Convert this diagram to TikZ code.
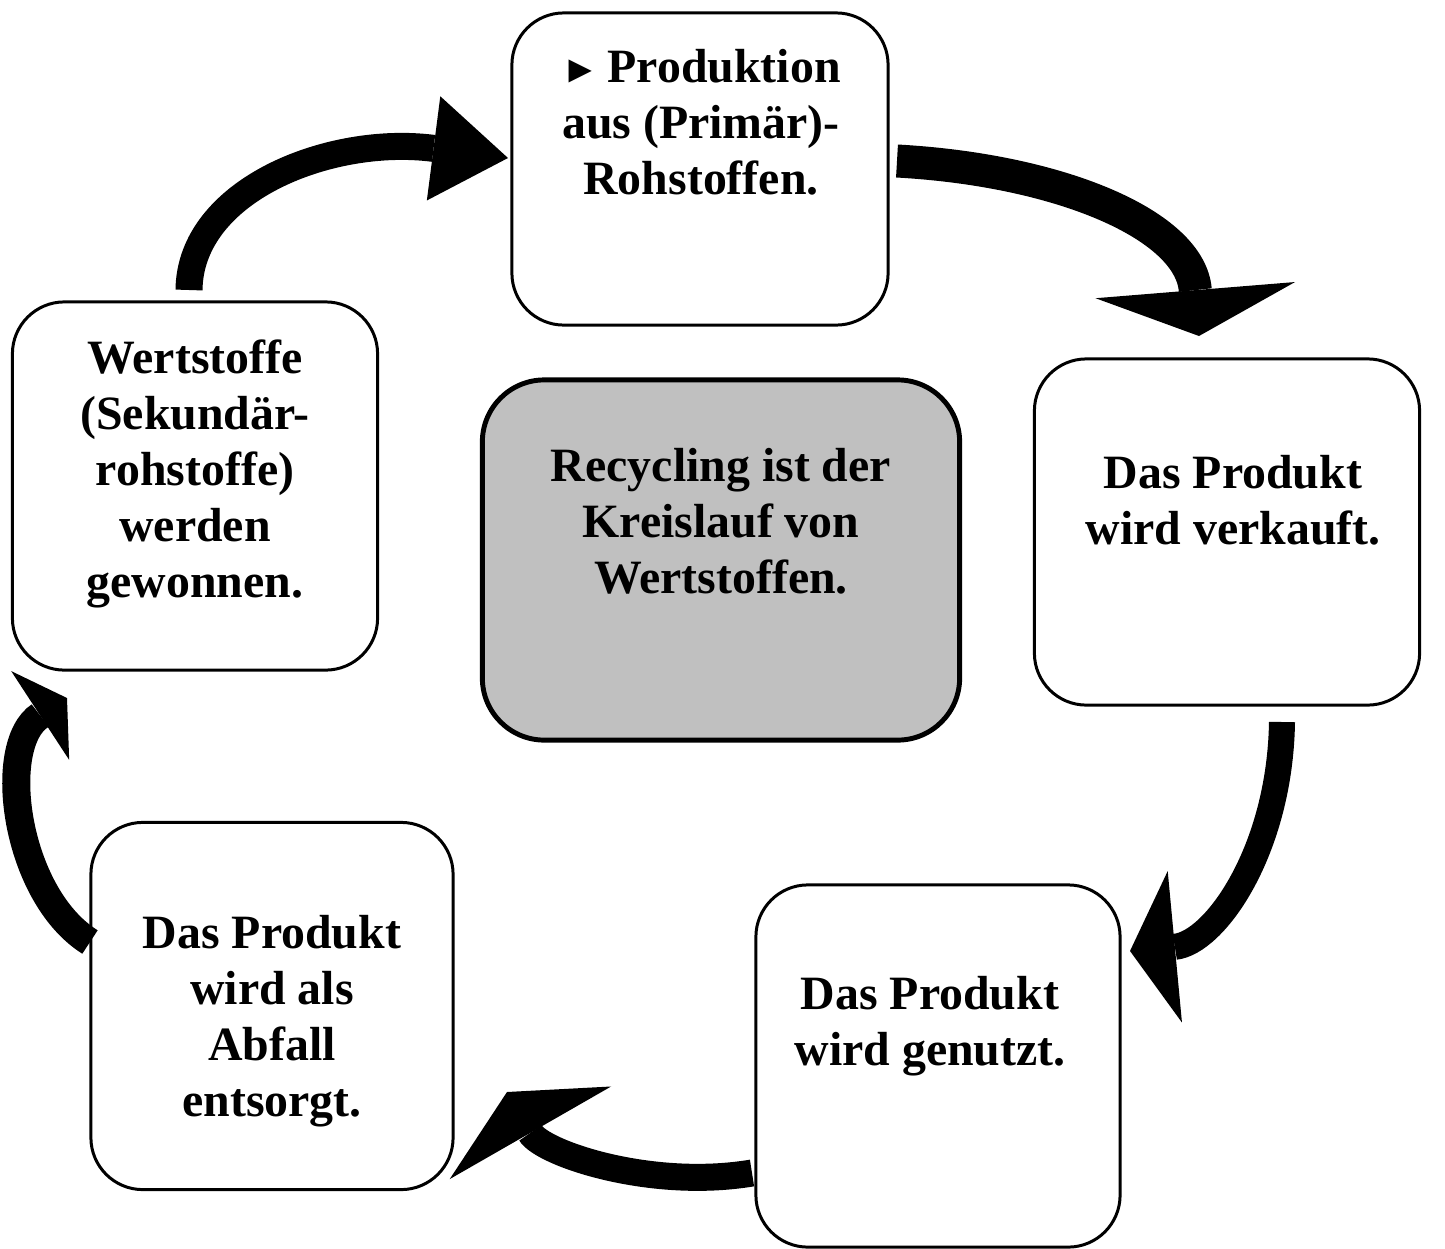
\documentclass[tikz,border=0pt]{standalone}
\usepackage{fontspec}
\setmainfont{Liberation Serif}
\usepackage{xcolor}
\usetikzlibrary{arrows.meta}
\definecolor{coregray}{RGB}{192,192,192}

\begin{document}
\begin{tikzpicture} [
       x=0.01cm, y=-0.01cm,
       stage/.style={draw, line width=0.85pt, rounded corners=0.52cm, inner sep=0pt},
       core/.style={stage, line width=1.4pt, fill=coregray, rounded corners=0.62cm},
       texte/.style={align=center, inner sep=0pt,
               font=\bfseries\fontsize{13.6}{15.9}\selectfont},
       bent/.style n args={3}{draw, line width=#1,
               -{Triangle[length=#2, width=#3, line width=0pt]}},
       ]
       \useasboundingbox (0,0) rectangle (1445,1248);
       % boxes
       \node (prod) [stage, minimum width=3.76cm, minimum height=3.12cm] at (700,169) {};
       \node (sold) [stage, minimum width=3.85cm, minimum height=3.46cm] at (1227,532) {};
       \node (used) [stage, minimum width=3.64cm, minimum height=3.62cm] at (938,1066) {};
       \node (waste) [stage, minimum width=3.62cm, minimum height=3.67cm] at (272,1006) {};
       \node (recov) [stage, minimum width=3.65cm, minimum height=3.68cm] at (195,486) {};
       \node (core) [core, minimum width=4.77cm, minimum height=3.60cm] at (721,560) {};
       % texts
       \node (prodtext) [texte] at (701,122) {{\fontsize{11}{11}\selectfont ►}\,Produktion\\aus (Primär)-\\Rohstoffen.};
       \node (soldtext) [texte] at (1233,500) {Das Produkt\\wird verkauft.};
       \node (usedtext) [texte] at (930,1026) {Das Produkt\\wird genutzt.};
       \node (wastetext) [texte] at (272,1021) {Das Produkt\\wird als\\Abfall\\entsorgt.};
       \node (recovtext) [texte] at (195,474) {Wertstoffe\\(Sekundär-\\rohstoffe)\\werden\\gewonnen.};
       \node (coretext) [texte] at (721,521) {Recycling ist der\\Kreislauf von\\Wertstoffen.};
       % arrow ends
       \coordinate (r2p) at (189,290);   \coordinate (p2r) at (508,158);
       \coordinate (p2s) at (897,161);   \coordinate (s2p) at (1199,336);
       \coordinate (s2u) at (1282,722);  \coordinate (u2s) at (1130,951);
       \coordinate (u2w) at (752,1173);  \coordinate (w2u) at (507,1092);
       \coordinate (w2r) at (90,942);    \coordinate (r2w) at (67,698);
       \draw [bent={0.27cm}{0.75cm}{1.05cm}] (r2p) .. controls (190,190) and (330,135) .. (p2r);
       \draw [bent={0.33cm}{0.46cm}{2.0cm}] (p2s) .. controls (1060,170) and (1190,225) .. (s2p);
       \draw [bent={0.26cm}{0.45cm}{1.52cm}] (s2u) .. controls (1280,850) and (1215,943) .. (u2s);
       \draw [bent={0.27cm}{0.47cm}{1.86cm}] (u2w) .. controls (650,1190) and (542,1153) .. (w2u);
       \draw [bent={0.28cm}{0.32cm}{1.06cm}] (w2r) .. controls (15,895) and (-5,745) .. (r2w);
\end{tikzpicture}
\end{document}
